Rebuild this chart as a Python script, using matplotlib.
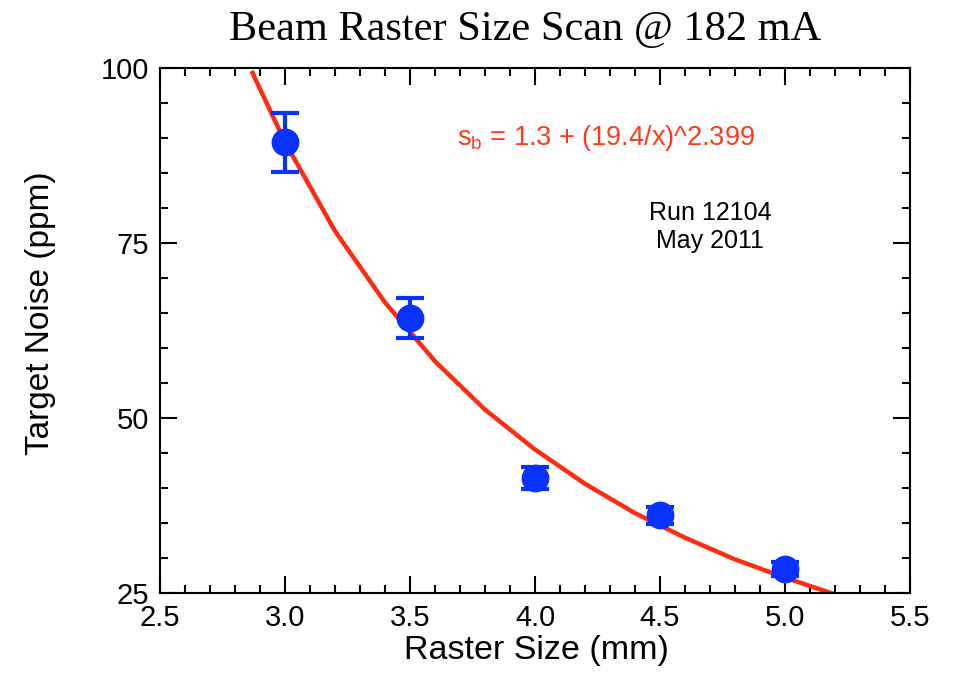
import matplotlib
matplotlib.use("Agg")
import matplotlib.pyplot as plt
from matplotlib.ticker import MultipleLocator

# Measured data
raster = [3.0, 3.5, 4.0, 4.5, 5.0]
noise = [89.4, 64.3, 41.4, 36.1, 28.4]
noise_err = [4.2, 2.9, 1.6, 1.2, 1.0]

# Fit curve points
fit_x = [2.87, 3.0, 3.2, 3.4, 3.6, 3.8, 4.0, 4.2, 4.4, 4.6, 4.8, 5.0, 5.2]
fit_y = [99.3, 89.4, 76.7, 66.5, 58.1, 51.2, 45.5, 40.6, 36.4, 32.9, 29.8, 27.2, 24.8]

xticks = [2.5, 3.0, 3.5, 4.0, 4.5, 5.0, 5.5]
yticks = [25, 50, 75, 100]

W, H = 955, 675
fig = plt.figure(figsize=(9.55, 6.75), dpi=100)
ax = fig.add_axes([160 / W, 1 - 593 / H, 750 / W, 525 / H])

ax.plot(fit_x, fit_y, color='#ff2a10', lw=3.2, zorder=2)
ax.errorbar(raster, noise, yerr=noise_err, fmt='o', color='#0a32ff', ms=19,
            elinewidth=3, capsize=10, capthick=3, zorder=3)

ax.set_xlim(2.5, 5.5)
ax.set_ylim(25, 100)
ax.set_xticks(xticks)
ax.set_xticklabels([f"{v:.1f}" for v in xticks])
ax.set_yticks(yticks)
ax.set_yticklabels([str(v) for v in yticks])
ax.xaxis.set_minor_locator(MultipleLocator(0.1))
ax.yaxis.set_minor_locator(MultipleLocator(5))
ax.tick_params(which='both', direction='in', top=True, right=True, width=1.5,
               labelsize=21, labelfontfamily='Liberation Sans')
ax.tick_params(which='major', length=12, pad=8)
ax.tick_params(which='minor', length=6)
for s in ax.spines.values():
    s.set_linewidth(1.5)

fig.text(536 / W, 1 - 659 / H, 'Raster Size (mm)', fontsize=24.5, family='Liberation Sans',
         ha='center', va='baseline')
fig.text(40 / W, 1 - 313 / H, 'Target Noise (ppm)', fontsize=24, family='Liberation Sans',
         ha='center', va='center', rotation=90)

fig.text(525 / W, 1 - 30 / H, 'Beam Raster Size Scan @ 182 mA', ha='center', va='center',
         fontsize=30.5, family='Liberation Serif')

fig.text(457 / W, 1 - 138 / H, r's$\mathregular{_b}$ = 1.3 + (19.4/x)^2.399',
         color='#ff3a1a', fontsize=19.5, family='Liberation Sans', ha='left', va='center')
fig.text(710 / W, 1 - 227 / H, 'Run 12104\nMay 2011', color='black',
         fontsize=18, family='Liberation Sans', ha='center', va='center', linespacing=1.2)

fig.savefig('out.png', dpi=100)
